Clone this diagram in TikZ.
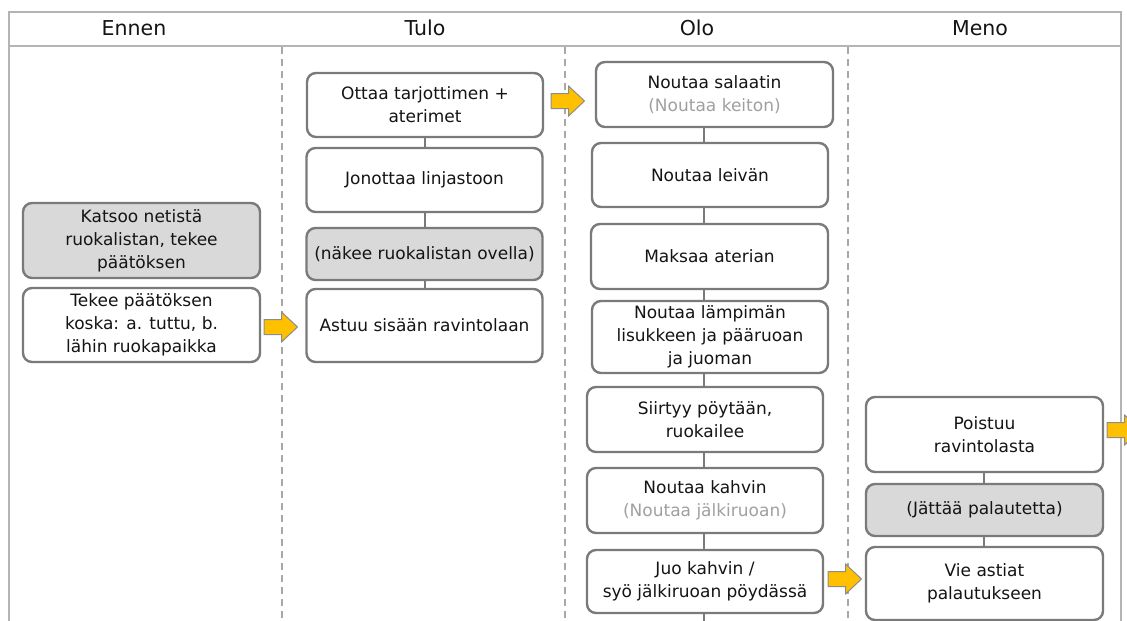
\documentclass[tikz,border=0pt]{standalone}
\usepackage{fontspec}
\setmainfont{DejaVu Sans}
\usetikzlibrary{calc}
\definecolor{boxline}{HTML}{7A7A7A}
\definecolor{gridline}{HTML}{B4B4B4}
\definecolor{dashline}{HTML}{A8A8A8}
\definecolor{fillgray}{HTML}{D9D9D9}
\definecolor{subtext}{HTML}{A0A0A0}
\definecolor{arrowfill}{HTML}{FFC000}
\definecolor{arrowline}{HTML}{8C8C8C}
\definecolor{maintext}{HTML}{141414}
\tikzset{
  stepbox/.style={draw=boxline, line width=2.4pt, rounded corners=9pt, fill=white,
    align=center, inner sep=0pt, minimum width=236pt,
    font=\fontsize{17}{23}\selectfont, text=maintext},
  graybox/.style={stepbox, fill=fillgray},
  link/.style={draw=boxline, line width=2.4pt},
  divider/.style={draw=dashline, line width=1.3pt, dash pattern=on 7pt off 5pt},
  frameline/.style={draw=gridline, line width=2pt},
  headtext/.style={font=\fontsize{20.5}{24}\selectfont, text=maintext},
  blockarrow/.style={fill=arrowfill, draw=arrowline, line width=1pt, line join=miter},
  barrow/.pic={\draw[blockarrow] (0,-7.5) -- (17.5,-7.5) -- (17.5,-15) -- (33.5,0) -- (17.5,15) -- (17.5,7.5) -- (0,7.5) -- cycle;}
}
\begin{document}
\begin{tikzpicture}[x=1pt,y=-1pt]
\useasboundingbox (0,0) rectangle (1127,621);
\clip (0,0) rectangle (1127,621);
\fill[white] (0,0) rectangle (1127,621);

% frame and header
\draw[frameline] (9,621) -- (9,11.5) -- (1121,11.5) -- (1121,621);
\draw[frameline] (9,46) -- (1121,46);
\node[headtext] (hEnnen) at (134,28) {Ennen};
\node[headtext] (hTulo) at (425,28) {Tulo};
\node[headtext] (hOlo) at (697,28) {Olo};
\node[headtext] (hMeno) at (980,28) {Meno};

% column dividers
\draw[divider] (282,47) -- (282,621);
\draw[divider] (565,47) -- (565,621);
\draw[divider] (848,47) -- (848,621);

% Ennen
\node[graybox, minimum width=237pt, minimum height=75pt] (e1) at (141.5,240.5) {Katsoo netistä\\ruokalistan, tekee\\päätöksen};
\node[stepbox, minimum width=237pt, minimum height=74pt] (e2) at (141.5,325) {Tekee päätöksen\\koska: a. tuttu, b.\\lähin ruokapaikka};

% Tulo
\node[stepbox, minimum height=64pt] (t1) at (425,105) {Ottaa tarjottimen +\\aterimet};
\node[stepbox, minimum height=64pt] (t2) at (424.5,180) {Jonottaa linjastoon};
\node[graybox, minimum height=52pt] (t3) at (424.5,254) {(näkee ruokalistan ovella)};
\node[stepbox, minimum height=73pt] (t4) at (424.5,325.5) {Astuu sisään ravintolaan};
\coordinate (tl) at (425,0);
\draw[link] (t1.south -| tl) -- (t2.north -| tl);
\draw[link] (t2.south -| tl) -- (t3.north -| tl);
\draw[link] (t3.south -| tl) -- (t4.north -| tl);

% Olo
\node[stepbox, minimum width=237pt, minimum height=65pt] (o1) at (714.5,94.5) {Noutaa salaatin\\\textcolor{subtext}{(Noutaa keiton)}};
\node[stepbox, minimum height=64pt] (o2) at (710,175) {Noutaa leivän};
\node[stepbox, minimum width=237pt, minimum height=65pt] (o3) at (709.5,256.5) {Maksaa aterian};
\node[stepbox, minimum height=72pt] (o4) at (710,337) {Noutaa lämpimän\\lisukkeen ja pääruoan\\ja juoman};
\node[stepbox, minimum height=65pt] (o5) at (705,419.5) {Siirtyy pöytään,\\ruokailee};
\node[stepbox, minimum height=65pt] (o6) at (705,500.5) {Noutaa kahvin\\\textcolor{subtext}{(Noutaa jälkiruoan)}};
\node[stepbox, minimum height=63pt] (o7) at (705,581.5) {Juo kahvin /\\syö jälkiruoan pöydässä};
\coordinate (ol) at (704,0);
\coordinate (olend) at (704,625);
\draw[link] (o1.south -| ol) -- (o2.north -| ol);
\draw[link] (o2.south -| ol) -- (o3.north -| ol);
\draw[link] (o3.south -| ol) -- (o4.north -| ol);
\draw[link] (o4.south -| ol) -- (o5.north -| ol);
\draw[link] (o5.south -| ol) -- (o6.north -| ol);
\draw[link] (o6.south -| ol) -- (o7.north -| ol);
\draw[link] (o7.south -| ol) -- (olend);

% Meno
\node[stepbox, minimum width=237pt, minimum height=75pt] (m1) at (984.5,434.5) {Poistuu\\ravintolasta};
\node[graybox, minimum width=237pt, minimum height=52pt] (m2) at (984.5,510) {(Jättää palautetta)};
\node[stepbox, minimum width=237pt, minimum height=73pt] (m3) at (984.5,583.5) {Vie astiat\\palautukseen};
\coordinate (ml) at (984,0);
\draw[link] (m1.south -| ml) -- (m2.north -| ml);
\draw[link] (m2.south -| ml) -- (m3.north -| ml);

% block arrows
\pic (a1) at (264,327) {barrow};
\pic (a2) at (551,101) {barrow};
\pic (a3) at (828,579) {barrow};
\pic (a4) at (1107,430) {barrow};
\end{tikzpicture}
\end{document}
